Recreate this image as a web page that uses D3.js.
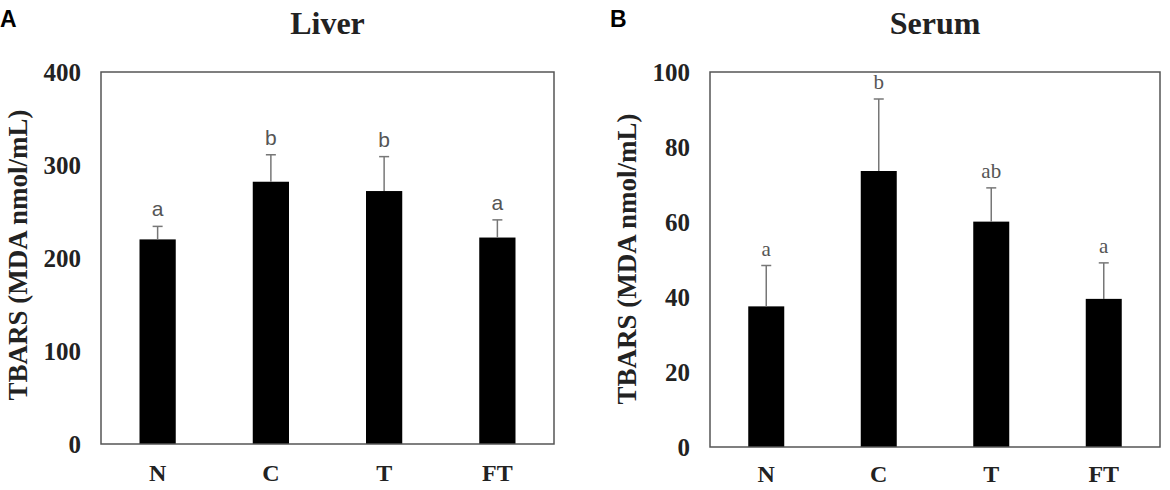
<!DOCTYPE html>
<html>
<head>
<meta charset="utf-8">
<script src="https://cdn.jsdelivr.net/npm/d3@7/dist/d3.min.js"></script>
<style>
  html, body { margin: 0; padding: 0; background: #fff; }
  svg { display: block; }
</style>
</head>
<body>
<svg id="chart" width="1170" height="490"></svg>
<script>
// ---- data ----
const categories = ["N", "C", "T", "FT"];

const liverValues = [220, 282, 272, 222];
const liverErrors = [14, 29, 37, 19];
const liverLetters = ["a", "b", "b", "a"];
const liverTicks = [0, 100, 200, 300, 400];

const serumValues = [37.5, 73.6, 60.1, 39.5];
const serumErrors = [10.9, 19.2, 9.0, 9.6];
const serumLetters = ["a", "b", "ab", "a"];
const serumTicks = [0, 20, 40, 60, 80, 100];

const yLabel = "TBARS (MDA nmol/mL)";

const svg = d3.select("#chart");
const serif = "'Liberation Serif', 'Times New Roman', serif";
const sans = "'Liberation Sans', Arial, sans-serif";

function panel(opts) {
  const { x0, x1, yTop, yBot, max, values, errors, letters, ticks, title, panelLetter,
          letterX, labelX, labelY, letterFont, xPad } = opts;
  const g = svg.append("g");

  const x = d3.scaleBand().domain(categories).range([x0, x1]).paddingInner(0.68).paddingOuter(0.34);
  const y = d3.scaleLinear().domain([0, max]).range([yBot, yTop]);

  // bars
  g.selectAll("rect.bar").data(values).join("rect")
    .attr("class", "bar")
    .attr("x", (d, i) => x(categories[i]))
    .attr("width", x.bandwidth())
    .attr("y", d => y(d))
    .attr("height", d => y(0) - y(d))
    .attr("fill", "#000");

  // error bars (upper only)
  const cx = i => x(categories[i]) + x.bandwidth() / 2;
  g.selectAll("line.err").data(values).join("line")
    .attr("class", "err")
    .attr("x1", (d, i) => cx(i)).attr("x2", (d, i) => cx(i))
    .attr("y1", d => y(d)).attr("y2", (d, i) => y(d + errors[i]))
    .attr("stroke", "#777").attr("stroke-width", 1.5);
  g.selectAll("line.cap").data(values).join("line")
    .attr("class", "cap")
    .attr("x1", (d, i) => cx(i) - 5).attr("x2", (d, i) => cx(i) + 5)
    .attr("y1", (d, i) => y(d + errors[i])).attr("y2", (d, i) => y(d + errors[i]))
    .attr("stroke", "#777").attr("stroke-width", 1.5);

  // significance letters
  g.selectAll("text.sig").data(values).join("text")
    .attr("class", "sig")
    .attr("x", (d, i) => cx(i))
    .attr("y", (d, i) => y(d + errors[i]) - 10)
    .attr("text-anchor", "middle")
    .attr("font-family", letterFont)
    .attr("font-size", 21)
    .attr("fill", "#555")
    .text((d, i) => letters[i]);

  // frame
  g.append("rect")
    .attr("x", x0).attr("y", yTop)
    .attr("width", x1 - x0).attr("height", yBot - yTop)
    .attr("fill", "none").attr("stroke", "#555").attr("stroke-width", 1.5);

  // y axis tick labels
  const yAxis = d3.axisLeft(y).tickValues(ticks).tickSize(0).tickPadding(20).tickFormat(d3.format("d"));
  const ya = g.append("g").attr("transform", `translate(${x0},0)`).call(yAxis);
  ya.select(".domain").remove();
  ya.selectAll("text")
    .attr("font-family", serif).attr("font-weight", "bold")
    .attr("font-size", 25).attr("fill", "#222");

  // x axis labels
  const xAxis = d3.axisBottom(x).tickSize(0).tickPadding(xPad);
  const xa = g.append("g").attr("transform", `translate(0,${yBot})`).call(xAxis);
  xa.select(".domain").remove();
  xa.selectAll("text")
    .attr("font-family", serif).attr("font-weight", "bold")
    .attr("font-size", 24).attr("fill", "#222");

  // y label
  g.append("text")
    .attr("transform", `translate(${labelX},${labelY}) rotate(-90)`)
    .attr("text-anchor", "middle")
    .attr("dy", "0.35em")
    .attr("font-family", serif).attr("font-weight", "bold")
    .attr("font-size", 27).attr("fill", "#222")
    .text(yLabel);

  // title
  g.append("text")
    .attr("x", (x0 + x1) / 2).attr("y", 34)
    .attr("text-anchor", "middle")
    .attr("font-family", serif).attr("font-weight", "bold")
    .attr("font-size", 32).attr("fill", "#222")
    .text(title);

  // panel letter
  g.append("text")
    .attr("x", letterX).attr("y", 27)
    .attr("font-family", sans).attr("font-weight", "bold")
    .attr("font-size", 23).attr("fill", "#000")
    .text(panelLetter);
}

panel({ x0: 101, x1: 554, yTop: 72, yBot: 444, max: 400,
  values: liverValues, errors: liverErrors, letters: liverLetters, ticks: liverTicks,
  title: "Liver", panelLetter: "A", letterX: 0, labelX: 18, labelY: 255, letterFont: sans, xPad: 20 });

panel({ x0: 710, x1: 1160, yTop: 72, yBot: 447, max: 100,
  values: serumValues, errors: serumErrors, letters: serumLetters, ticks: serumTicks,
  title: "Serum", panelLetter: "B", letterX: 610, labelX: 627, labelY: 259, letterFont: serif, xPad: 18 });
</script>
</body>
</html>
